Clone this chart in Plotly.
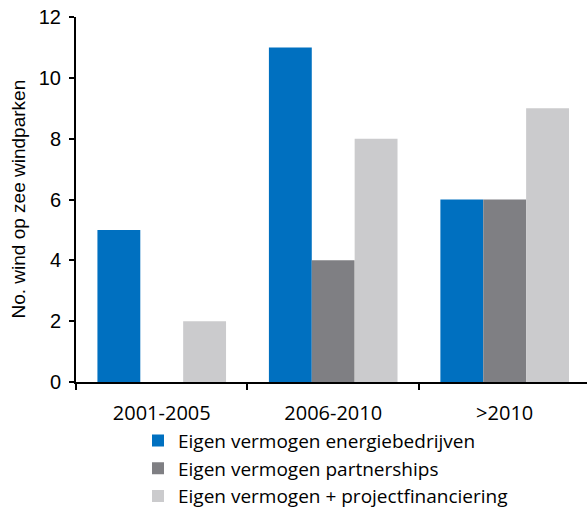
import plotly.graph_objects as go

categories = ["2001-2005", "2006-2010", ">2010"]
series_names = [
    "Eigen vermogen energiebedrijven",
    "Eigen vermogen partnerships",
    "Eigen vermogen + projectfinanciering",
]
energie = [5, 11, 6]
partnerships = [0, 4, 6]
projectfin = [2, 8, 9]
y_ticks = [0, 2, 4, 6, 8, 10, 12]
y_title = "No. wind op zee windparken"
colors = ["#0070c0", "#7f7f83", "#cbcbcd"]

fig = go.Figure()
for name, vals, col in zip(series_names, [energie, partnerships, projectfin], colors):
    fig.add_trace(go.Bar(
        x=categories, y=vals, name=name,
        marker=dict(color=col, line=dict(width=0)),
    ))

fig.update_layout(
    width=587, height=508,
    margin=dict(l=76, r=0, t=17, b=126, autoexpand=False),
    paper_bgcolor="white", plot_bgcolor="white",
    barmode="group", bargap=0.25, bargroupgap=0,
    showlegend=True,
    legend=dict(
        xref="container", yref="container",
        x=138 / 587, y=0.17, xanchor="left", yanchor="top",
        font=dict(family="Open Sans", size=19, color="#000"),
        tracegroupgap=0, itemwidth=30,
        bgcolor="rgba(0,0,0,0)",
    ),
    xaxis=dict(
        type="category", range=[-0.5, 2.48],
        showline=True, linecolor="#000", linewidth=2,
        ticks="outside", tickson="boundaries", ticklen=6, tickcolor="#000", tickwidth=2,
        tickfont=dict(family="Open Sans", size=20, color="#000"),
        tickangle=0, ticklabelstandoff=12,
        showgrid=False, zeroline=False,
    ),
    yaxis=dict(
        range=[0, 12], tickvals=y_ticks,
        showline=True, linecolor="#000", linewidth=2,
        ticks="outside", ticklen=5, tickcolor="#000", tickwidth=2,
        tickfont=dict(family="Liberation Sans", size=20, color="#000"),
        ticklabelstandoff=4,
        showgrid=False, zeroline=False,
    ),
    annotations=[dict(
        text=y_title, textangle=-90,
        xref="paper", yref="paper", x=(18 - 76) / 511, y=0.5,
        xanchor="center", yanchor="middle", showarrow=False,
        font=dict(family="Liberation Sans", size=19, color="#000"),
    )],
)

fig.write_html(
    "out.html",
    config={"displayModeBar": False},
    post_script="document.body.style.margin='0';document.body.style.padding='0';",
)
